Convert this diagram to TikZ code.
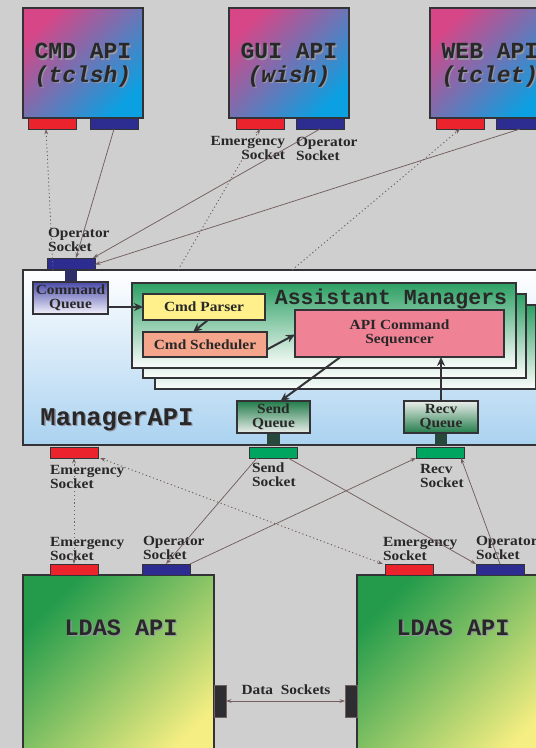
\documentclass[tikz,border=0pt]{standalone}
\usepackage{fontspec}
\usetikzlibrary{arrows.meta,calc}
\newfontfamily\lblfont{Liberation Serif}[FakeStretch=1.1]
\newfontfamily\ttlfont{Liberation Mono}
\definecolor{bgc}{RGB}{207,207,207}
\definecolor{bordc}{RGB}{50,50,55}
\definecolor{pinkc}{RGB}{215,70,135}
\definecolor{bluec}{RGB}{10,160,225}
\definecolor{titlec}{RGB}{40,40,40}
\definecolor{shadowc}{RGB}{150,150,165}
\definecolor{lblc}{RGB}{40,40,40}
\definecolor{redc}{RGB}{235,35,45}
\definecolor{navyc}{RGB}{45,45,145}
\definecolor{sgreenc}{RGB}{0,165,95}
\definecolor{connc}{RGB}{115,95,95}
\definecolor{mgrbot}{RGB}{170,210,240}
\definecolor{cqtop}{RGB}{75,75,170}
\definecolor{cqbot}{RGB}{242,242,252}
\definecolor{amtop}{RGB}{45,160,100}
\definecolor{ambot}{RGB}{252,253,252}
\definecolor{parserc}{RGB}{255,240,140}
\definecolor{schedc}{RGB}{245,165,140}
\definecolor{seqc}{RGB}{240,130,150}
\definecolor{qgreen}{RGB}{35,125,75}
\definecolor{qlight}{RGB}{235,238,235}
\definecolor{stubnavy}{RGB}{45,45,105}
\definecolor{stubgreen}{RGB}{40,72,60}
\definecolor{ldgreen}{RGB}{35,155,75}
\definecolor{ldyellow}{RGB}{245,238,130}
\definecolor{dsockc}{RGB}{45,45,50}
\newcommand\shd[1]{\leavevmode\rlap{\kern1.3pt\raisebox{-1.3pt}{\textcolor{shadowc}{#1}}}#1}
\begin{document}
\begin{tikzpicture}[x=1pt,y=-1pt,
  box/.style={draw=bordc, line width=2pt, inner sep=0pt, outer sep=0pt, anchor=north west},
  apibox/.style={box, minimum width=120pt, minimum height=110pt, top color=pinkc, bottom color=bluec, shading angle=45},
  apitxt/.style={font=\ttlfont\bfseries\fontsize{23}{23.5}\selectfont, text=titlec, align=center, inner sep=0pt},
  ldbox/.style={box, minimum width=191pt, minimum height=190pt, top color=ldgreen, bottom color=ldyellow, shading angle=45},
  sock/.style={draw=bordc, line width=1pt, minimum width=48pt, minimum height=11pt, inner sep=0pt, outer sep=0pt, anchor=north west},
  redsock/.style={sock, fill=redc},
  bluesock/.style={sock, fill=navyc},
  greensock/.style={sock, fill=sgreenc},
  lbl/.style={font=\lblfont\bfseries\fontsize{14}{14}\selectfont, text=lblc, inner sep=0pt, outer sep=0pt},
  boxtxt/.style={font=\lblfont\bfseries\fontsize{14}{14}\selectfont, text=lblc, align=center},
  ambox/.style={box, top color=amtop, bottom color=ambot},
  conn/.style={draw=connc, line width=0.75pt, -{Stealth[length=5.5pt,width=3.8pt]}},
  emline/.style={draw=connc, line width=0.9pt, dash pattern=on 1.2pt off 2.6pt, -{Stealth[length=5.5pt,width=3.8pt]}},
  emboth/.style={emline, {Stealth[length=5.5pt,width=3.8pt]}-{Stealth[length=5.5pt,width=3.8pt]}},
  inarr/.style={draw=bordc, line width=2pt, -{Stealth[length=9pt,width=8pt]}},
  stub/.style={inner sep=0pt, outer sep=0pt, anchor=north west}
]
\useasboundingbox (0,0) rectangle (536,748);
\clip (0,0) rectangle (536,748);
\fill[bgc] (0,0) rectangle (536,748);

% ---------- top API boxes ----------
\node[apibox] (cmd) at (23,8) {};
\node[apibox] (gui) at (229,8) {};
\node[apibox] (web) at (430,8) {};
\node[apitxt] (cmdtxt) at ([yshift=-3pt]cmd.center) {\shd{CMD API}\\\shd{\textit{(tclsh)}}};
\node[apitxt] (guitxt) at ([yshift=-3pt]gui.center) {\shd{GUI API}\\\shd{\textit{(wish)}}};
\node[apitxt] (webtxt) at ([yshift=-3pt]web.center) {\shd{WEB API}\\\shd{\textit{(tclet)}}};

\node[redsock] (cmdE) at (28,118) {};
\node[bluesock] (cmdO) at (90,118) {};
\node[redsock] (guiE) at (236,118) {};
\node[bluesock] (guiO) at (296,118) {};
\node[redsock] (webE) at (436,118) {};
\node[bluesock] (webO) at (496,118) {};

\node[lbl, align=right, anchor=north east] (guiElbl) at (285,136) {Emergency\\Socket};
\node[lbl, align=left, anchor=north west] (guiOlbl) at (296,137) {Operator\\Socket};

% ---------- Manager API ----------
\node[box, line width=2.6pt, minimum width=530pt, minimum height=175pt, top color=white, bottom color=mgrbot] (mgr) at (23,270) {};

\coordinate (e1) at (53,270);
\coordinate (e2) at (178,270);
\coordinate (e3) at (292,270);

\node[bluesock] (mgrO) at (47,258) {};
\node[lbl, align=left, anchor=north west] (mgrOlbl) at (48,228) {Operator\\Socket};
\node[stub, fill=stubnavy, minimum width=12pt, minimum height=13pt] (cqstub) at (65,270) {};

\node[box, minimum width=75pt, minimum height=32pt, top color=cqtop, bottom color=cqbot] (cq) at (33,282) {};
\node[boxtxt, inner sep=0pt] (cqtxt) at (cq.center) {Command\\Queue};

\node[ambox, minimum width=381pt, minimum height=84pt] (am3) at (155,305) {};
\node[ambox, minimum width=383pt, minimum height=84pt] (am2) at (143,294) {};
\node[ambox, minimum width=384pt, minimum height=85pt] (am1) at (132,283) {};
\node[font=\ttlfont\bfseries\fontsize{21.5}{21.5}\selectfont, text=titlec, inner sep=0pt] (amtxt) at (391,299) {Assistant Managers};

\node[box, minimum width=122pt, minimum height=26pt, fill=parserc] (parser) at (143,294) {};
\node[boxtxt, inner sep=0pt] (parsertxt) at (parser.center) {Cmd Parser};
\node[box, minimum width=124pt, minimum height=25pt, fill=schedc] (sched) at (143,332) {};
\node[boxtxt, inner sep=0pt] (schedtxt) at (sched.center) {Cmd Scheduler};
\node[box, minimum width=209pt, minimum height=47pt, fill=seqc] (seq) at (295,310) {};
\node[boxtxt, inner sep=0pt] (seqtxt) at (seq.center) {API Command\\Sequencer};

\node[box, minimum width=73pt, minimum height=32pt, top color=qgreen, bottom color=qlight] (sendq) at (237,401) {};
\node[boxtxt, inner sep=0pt] (sendqtxt) at (sendq.center) {Send\\Queue};
\node[box, minimum width=74pt, minimum height=32pt, top color=qlight, bottom color=qgreen] (recvq) at (404,401) {};
\node[boxtxt, inner sep=0pt] (recvqtxt) at (recvq.center) {Recv\\Queue};

\node[stub, fill=stubgreen, minimum width=13pt, minimum height=11pt] (sendstub) at (267,434) {};
\node[stub, fill=stubgreen, minimum width=12pt, minimum height=11pt] (recvstub) at (435,434) {};

\node[font=\ttlfont\bfseries\fontsize{25.5}{25.5}\selectfont, text=titlec, inner sep=0pt] (mgrtxt) at (117,420) {\shd{ManagerAPI}};

\draw[inarr] (parser.west -| cq.east) -- (parser.west);
\draw[inarr] ([xshift=4pt]parser.south) -- ([xshift=-12pt]sched.north);
\draw[inarr] ([yshift=-5pt]sched.east) -- ([yshift=-1pt]seq.west);
\draw[inarr] ([xshift=-59pt]seq.south) -- ([xshift=7pt]sendq.north);
\draw[inarr] (recvq.north) -- (recvq.north |- seq.south);

\node[redsock] (mgrE) at (50,447) {};
\node[greensock] (sendS) at (249,447) {};
\node[greensock] (recvS) at (416,447) {};
\node[lbl, align=left, anchor=north west] (mgrElbl) at (50,465) {Emergency\\Socket};
\node[lbl, align=left, anchor=north west] (sendSlbl) at (252,463) {Send\\Socket};
\node[lbl, align=left, anchor=north west] (recvSlbl) at (420,464) {Recv\\Socket};

% ---------- LDAS API boxes ----------
\node[ldbox] (ld1) at (23,575) {};
\node[ldbox] (ld2) at (357,575) {};
\node[font=\ttlfont\bfseries\fontsize{23.5}{23.5}\selectfont, text=titlec, inner sep=0pt] (ld1txt) at (121,628) {\shd{LDAS API}};
\node[font=\ttlfont\bfseries\fontsize{23.5}{23.5}\selectfont, text=titlec, inner sep=0pt] (ld2txt) at (453,628) {\shd{LDAS API}};

\node[redsock] (ldE1) at (50,564) {};
\node[bluesock] (ldO1) at (142,564) {};
\node[redsock] (ldE2) at (385,564) {};
\node[bluesock] (ldO2) at (476,564) {};
\node[lbl, align=left, anchor=north west] (ldE1lbl) at (50,537) {Emergency\\Socket};
\node[lbl, align=left, anchor=north west] (ldO1lbl) at (143,536) {Operator\\Socket};
\node[lbl, align=left, anchor=north west] (ldE2lbl) at (383,537) {Emergency\\Socket};
\node[lbl, align=left, anchor=north west] (ldO2lbl) at (476,536) {Operator\\Socket};

\node[stub, draw=connc, line width=0.6pt, fill=dsockc, minimum width=12pt, minimum height=32pt] (dsL) at (214,685) {};
\node[stub, draw=connc, line width=0.6pt, fill=dsockc, minimum width=12pt, minimum height=32pt] (dsR) at (345,685) {};
\node[lbl] (dslbl) at (286,690) {Data\ \ Sockets};
\draw[conn, {Stealth[length=5.5pt,width=3.8pt]}-{Stealth[length=5.5pt,width=3.8pt]}] (dsL.east) -- (dsR.west);

% ---------- connectors ----------
\draw[conn] (cmdO.south) -- ([xshift=5pt]mgrO.north);
\draw[conn] (guiO.south) -- ([xshift=-2pt]mgrO.north east);
\draw[conn] (webO.south) -- ([yshift=-1pt]mgrO.east);
\draw[emline] (e1) -- ([xshift=-6pt]cmdE.south);
\draw[emline] (e2) -- (guiE.south);
\draw[emline] (e3) -- (webE.south);

\draw[emboth] (ldE1.north) -- (mgrE.south);
\draw[emboth] ([xshift=2pt]mgrE.south east) -- ([xshift=-2pt]ldE2.north west);
\draw[conn] ([xshift=-16pt]sendS.south) -- (ldO1.north);
\draw[conn] (ldO1.north east) -- (recvS.south west);
\draw[conn] ([xshift=-9pt]sendS.south east) -- (ldO2.north west);
\draw[conn] (ldO2.north) -- ([xshift=-3pt]recvS.south east);
\end{tikzpicture}
\end{document}
